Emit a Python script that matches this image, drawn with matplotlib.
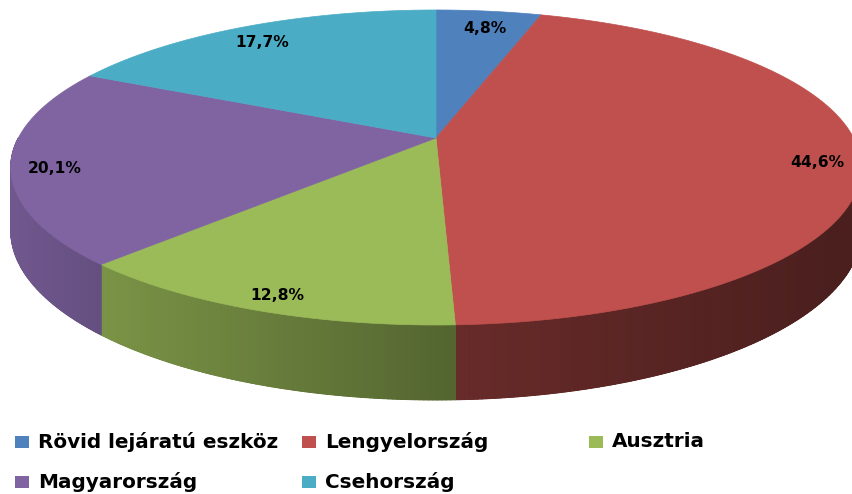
import numpy as np
import matplotlib
matplotlib.use("Agg")
import matplotlib.pyplot as plt
from matplotlib.patches import Polygon, Rectangle
from matplotlib.collections import PolyCollection
from matplotlib.colors import to_rgb

# data
categories = ["Rövid lejáratú eszköz", "Lengyelország", "Ausztria",
              "Magyarország", "Csehország"]
shares = [4.8, 44.6, 12.8, 20.1, 17.7]
colors = ["#4F81BD", "#C0504D", "#9BBB59", "#8064A2", "#4BACC6"]

# perspective of the 3D pie (pixel space of the 853x494 canvas)
CX = 436.0       # horizontal centre
DIST = 5.339     # camera distance (in pie radii)
M = 4332.0       # vertical scale
H = -673.4       # horizon offset
K = 2230.0       # horizontal scale
DEPTH = 325.0    # extrusion height scale
LABEL_R = 0.9
LABEL_LIFT = 6.0


def proj(r, t):
    u = r * np.cos(t)
    v = r * np.sin(t)
    return CX + K * u / (DIST + v), H + M / (DIST + v)


def side_shade(x):
    return np.interp(x, [10, 100, 455, 860], [0.88, 0.79, 0.54, 0.38])


fig = plt.figure(figsize=(8.53, 4.94), dpi=100)
ax = fig.add_axes([0, 0, 1, 1])
ax.set_xlim(0, 853)
ax.set_ylim(494, 0)
ax.axis("off")

fractions = np.array(shares) / sum(shares)
ends = 90 - 360 * np.cumsum(fractions)
starts = np.concatenate([[90], ends[:-1]])

# side walls (only the front half is visible)
for s, e, c in zip(starts, ends, colors):
    lo, hi = max(e, -180), min(s, 0)
    if lo >= hi:
        continue
    n = max(int((hi - lo) / 0.5), 2)
    ang = np.radians(np.linspace(lo, hi, n + 1))
    base = np.array(to_rgb(c))
    xs, ys = proj(1, ang)
    ds = DEPTH / (DIST + np.sin(ang))
    # underlay in the mean shade so strip seams do not show
    under = list(zip(xs, ys)) + list(zip(xs[::-1], (ys + ds)[::-1]))
    mean_col = base * side_shade(xs.mean())
    ax.add_patch(Polygon(under, closed=True, facecolor=mean_col,
                         edgecolor=mean_col, linewidth=0.4))
    strips, strip_cols = [], []
    for i in range(n):
        strips.append([(xs[i], ys[i]), (xs[i + 1], ys[i + 1]),
                       (xs[i + 1], ys[i + 1] + ds[i + 1]), (xs[i], ys[i] + ds[i])])
        strip_cols.append(base * side_shade((xs[i] + xs[i + 1]) / 2))
    ax.add_collection(PolyCollection(strips, facecolors=strip_cols,
                                     edgecolors=strip_cols, linewidths=0.8))

# top faces
for s, e, c in zip(starts, ends, colors):
    ang = np.radians(np.linspace(s, e, 200))
    xs, ys = proj(1, ang)
    pts = [proj(0, 0)] + list(zip(xs, ys))
    ax.add_patch(Polygon(pts, closed=True, facecolor=c, edgecolor=c,
                         linewidth=0.5))

# data labels
for s, e, v in zip(starts, ends, shares):
    mid = np.radians((s + e) / 2)
    lx, ly = proj(LABEL_R, mid)
    ax.text(lx, ly + LABEL_LIFT, f"{v:.1f}".replace(".", ",") + "%",
            ha="center", va="center", fontsize=11.2, fontweight="bold",
            color="black")

# legend
leg_x = [15, 302, 589, 15, 302]
leg_y = [441.5, 441.5, 441.5, 481.5, 481.5]
for name, c, x, y in zip(categories, colors, leg_x, leg_y):
    ax.add_patch(Rectangle((x, y - 6), 14, 12, facecolor=c, edgecolor="none"))
    ax.text(x + 23, y, name, ha="left", va="center", fontsize=14.4,
            fontweight="bold", color="black")

fig.savefig("out.png", dpi=100)
